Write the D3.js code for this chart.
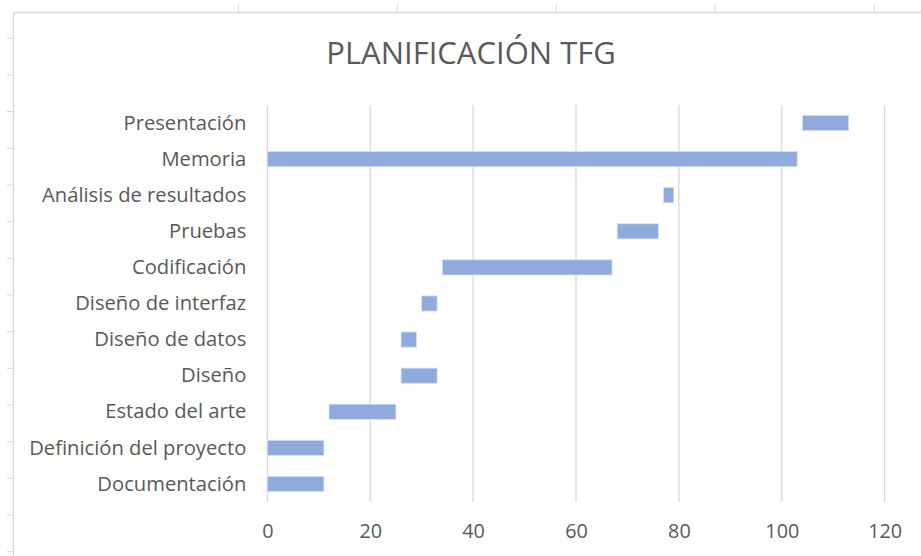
<!DOCTYPE html>
<html>
<head>
<meta charset="utf-8">
<script src="https://cdn.jsdelivr.net/npm/d3@7"></script>
<style>
  body { margin: 0; background: #fff; }
  text { font-family: "Open Sans", sans-serif; fill: #595959; }
</style>
</head>
<body>
<script>
// tareas de abajo hacia arriba
var tasks = ["Documentación", "Definición del proyecto", "Estado del arte", "Diseño",
    "Diseño de datos", "Diseño de interfaz", "Codificación", "Pruebas",
    "Análisis de resultados", "Memoria", "Presentación"];
var start = [0, 0, 12, 26, 26, 30, 34, 68, 77, 0, 104];
var duration = [11, 11, 13, 7, 3, 3, 33, 8, 2, 103, 9];
var xTicks = [0, 20, 40, 60, 80, 100, 120];

var title = "PLANIFICACIÓN TFG";

var width = 921, height = 556;

var svg = d3.select("body").append("svg")
    .attr("width", width)
    .attr("height", height);

// hoja de calculo detras del grafico
var sheet = svg.append("g").attr("class", "sheet");
var colLines = [238.3, 397.3, 556.3, 715.3, 874.3];
sheet.selectAll(".col").data(colLines).enter().append("line")
    .attr("x1", d => d).attr("x2", d => d)
    .attr("y1", 4).attr("y2", 12)
    .attr("stroke", "#d9d9d9").attr("stroke-width", 1);
var rowLines = d3.range(15).map(i => 38.3 + i * 36.67);
sheet.selectAll(".row").data(rowLines).enter().append("line")
    .attr("x1", 7).attr("x2", 13.5)
    .attr("y1", d => d).attr("y2", d => d)
    .attr("stroke", "#d9d9d9").attr("stroke-width", 1);

// borde del grafico
svg.append("path")
    .attr("d", "M13.5," + height + "V12.5H" + width)
    .attr("fill", "none")
    .attr("stroke", "#d9d9d9")
    .attr("stroke-width", 1.3);

var margin = {top: 105, bottom: 54, left: 267.3, right: 36.3};

var x = d3.scaleLinear()
    .domain([0, 120])
    .range([margin.left, width - margin.right]);

var y = d3.scaleBand()
    .domain(tasks.slice().reverse())
    .range([margin.top, height - margin.bottom])
    .paddingInner(0.58)
    .paddingOuter(0.29);

// lineas de division verticales
svg.append("g")
    .selectAll("line")
    .data(xTicks)
    .enter()
    .append("line")
    .attr("x1", d => x(d))
    .attr("x2", d => x(d))
    .attr("y1", margin.top)
    .attr("y2", height - margin.bottom)
    .attr("stroke", "#d9d9d9")
    .attr("stroke-width", 1.3);

// barras (serie de duracion; la serie de inicio es invisible)
svg.append("g")
    .selectAll("rect")
    .data(tasks)
    .enter()
    .append("rect")
    .attr("x", (d, i) => x(start[i]))
    .attr("y", d => y(d))
    .attr("width", (d, i) => x(start[i] + duration[i]) - x(start[i]))
    .attr("height", y.bandwidth())
    .attr("fill", "#8faadc")
    .attr("stroke", "#d6e0f3")
    .attr("stroke-width", 0.8);

// eje x
var xAxis = svg.append("g")
    .attr("transform", "translate(0," + (height - margin.bottom) + ")")
    .call(d3.axisBottom(x).tickValues(xTicks).tickSize(0).tickPadding(22));
xAxis.select(".domain").remove();
xAxis.selectAll("text")
    .style("font-size", "19.8px")
    .style("font-family", "'Open Sans', sans-serif")
    .attr("fill", "#595959");

// eje y
var yAxis = svg.append("g")
    .attr("transform", "translate(" + margin.left + ",0)")
    .call(d3.axisLeft(y).tickSize(0).tickPadding(21));
yAxis.select(".domain").remove();
yAxis.selectAll("text")
    .attr("dy", "0.33em")
    .style("font-size", "20.2px")
    .style("font-family", "'Open Sans', sans-serif")
    .attr("fill", "#595959");

// titulo
svg.append("text")
    .attr("x", 471)
    .attr("y", 63.5)
    .attr("text-anchor", "middle")
    .style("font-size", "31px")
    .attr("fill", "#595959")
    .text(title);
</script>
</body>
</html>
